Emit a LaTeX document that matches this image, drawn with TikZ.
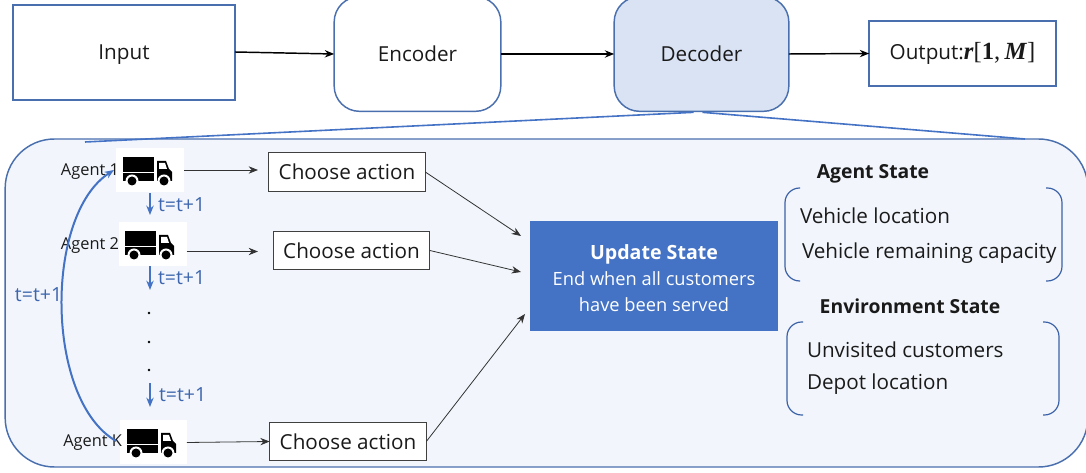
\documentclass[tikz,border=0pt]{standalone}
\usepackage{fontspec}
\setmainfont{Open Sans}
\newfontfamily\mathlike{Liberation Serif}
\usetikzlibrary{arrows.meta}
\definecolor{edgeblue}{HTML}{4A6FAE}
\definecolor{linkblue}{HTML}{4472C4}
\definecolor{panelfill}{HTML}{F2F6FC}
\definecolor{decfill}{HTML}{D9E3F3}
\definecolor{txtblue}{HTML}{3E66AE}
\definecolor{ink}{HTML}{1A1A1A}
\tikzset{
  x=0.75pt,y=-0.75pt,
  every node/.style={text=ink,inner sep=0pt,outer sep=0pt},
  main/.style={font=\fontsize{15.5pt}{18pt}\selectfont},
  sharpbox/.style={draw=edgeblue,line width=1.1pt,fill=white,main},
  roundbox/.style={draw=edgeblue,line width=1.1pt,fill=white,rounded corners=19pt,main},
  choosebox/.style={draw=black!75,line width=0.6pt,fill=white,minimum width=117.5pt,minimum height=29pt,main},
  thinarrow/.style={draw=black!80,line width=0.6pt,-{Stealth[length=7pt,width=5.5pt]}},
  bigarrow/.style={draw=black,line width=1.1pt,-{Stealth[length=7pt,width=5.5pt]}},
  bluearrow/.style={draw=linkblue,line width=1.2pt,-{Stealth[length=7pt,width=5.5pt]}},
  zoomline/.style={draw=linkblue,line width=1.2pt},
  agentlabel/.style={font=\fontsize{12.3pt}{14pt}\selectfont,anchor=east},
  steplabel/.style={font=\fontsize{14.6pt}{17pt}\selectfont,text=txtblue,anchor=west},
  bracket/.style={draw=linkblue!85!black,line width=0.9pt,rounded corners=11pt},
  truckwhite/.style={fill=white,minimum width=51pt,minimum height=33pt},
  statehead/.style={font=\fontsize{14.5pt}{17pt}\selectfont\bfseries},
  statetext/.style={main,anchor=west},
  dotnode/.style={circle,fill=black,minimum size=2pt},
}
\newcommand{\truckat}[2]{%
  \begin{scope}[shift={(#1,#2)}]
    \fill[black] (0,0) rectangle (31,15);
    \fill[black] (0,16.5) rectangle (31,24);
    \fill[black] (34,4) -- (43,4) -- (46,12) -- (49,15) -- (49,24) -- (34,24) -- cycle;
    \fill[white] (36,6) -- (42,6) -- (44,12) -- (36,12) -- cycle;
    \fill[white] (9,24) circle (6.5);
    \fill[black] (9,24) circle (4.5);
    \fill[white] (41,24) circle (6.5);
    \fill[black] (41,24) circle (4.5);
  \end{scope}}
\begin{document}
\begin{tikzpicture}
\useasboundingbox (0,0) rectangle (1086,473);
\clip (0,0) rectangle (1086,473);
% panel
\node[draw=edgeblue,line width=1.1pt,fill=panelfill,rounded corners=37pt,minimum width=812pt,minimum height=246pt] (panel) at (546.5,303) {};
% top row
\node[sharpbox,minimum width=166.5pt,minimum height=71pt,text height=10.5pt,text depth=0pt] (input) at (124,52.5) {Input};
\node[roundbox,minimum width=125pt,minimum height=86pt] (encoder) at (417.5,54) {Encoder};
\node[roundbox,fill=decfill,minimum width=131pt,minimum height=86pt] (decoder) at (701.5,54) {Decoder};
\node[sharpbox,minimum width=140pt,minimum height=49pt] (output) at (962.5,53.5) {Output:{\mathlike\fontsize{18.5pt}{18pt}\selectfont\textbf{\textit{r}}[\textbf{1},\,\textbf{\textit{M}}]}};
\draw[bigarrow] (input.east) ++(0,-0.5) -- (encoder.west);
\draw[bigarrow] (encoder.east) -- (decoder.west);
\draw[bigarrow] (decoder.east) -- (output.west);
% zoom lines
\coordinate (zl) at (85,142);
\coordinate (zr) at (1025,139);
\draw[zoomline] (decoder.south) ++(-8,1) -- (zl);
\draw[zoomline] (decoder.south) ++(1,1) -- (zr);
% trucks
\node[truckwhite] (t1) at (150,170) {};
\node[truckwhite] (t2) at (152.5,244.5) {};
\node[truckwhite,minimum width=50pt] (tk) at (153.5,442.5) {};
\truckat{123}{157}
\truckat{125}{231}
\truckat{127}{429}
\node[agentlabel] (a1) at (119,172) {Agent 1};
\node[agentlabel] (a2) at (119,246) {Agent 2};
\node[agentlabel] (ak) at (122,443) {Agent K};
% choose boxes
\node[choosebox] (c1) at (347,172) {Choose action};
\node[choosebox] (c2) at (351.5,250.5) {Choose action};
\node[choosebox] (ck) at (348,441.5) {Choose action};
\coordinate (f1) at (258,170);
\coordinate (f2) at (258,251.5);
\draw[thinarrow] (t1.east) -- (f1);
\draw[thinarrow] (t2.east) ++(0,7) -- (f2);
\draw[thinarrow] (tk.east) -- (ck.west);
% update
\node[fill=linkblue,minimum width=186pt,minimum height=82.5pt] (update) at (654,276) {};
\node[align=center,text=white,font=\fontsize{13.7pt}{19.5pt}\selectfont] (updatetext) at (654,278) {{\fontsize{14.7pt}{19.5pt}\selectfont\bfseries Update State}\\End when all customers\\have been served};
\coordinate (u1) at (521,236);
\coordinate (u2) at (521,272);
\coordinate (u3) at (525,314);
\draw[thinarrow] (c1.east) -- (u1);
\draw[thinarrow] (c2.east) -- (u2);
\draw[thinarrow] (ck.east) -- (u3);
% blue steps
\coordinate (d1) at (150,215);
\coordinate (d2) at (150,290);
\coordinate (d3a) at (150,383);
\coordinate (d3) at (150,407);
\draw[bluearrow] (t1.south) ++(0,1) -- (d1);
\draw[bluearrow] (t2.south) ++(-2.5,0) -- (d2);
\draw[bluearrow] (d3a) -- (d3);
\node[steplabel] (s1) at (158,205) {t=t+1};
\node[steplabel] (s2) at (158,278) {t=t+1};
\node[steplabel] (s3) at (159,395) {t=t+1};
\node[steplabel] (s4) at (15,295) {t=t+1};
\node[dotnode] (p1) at (149,313) {};
\node[dotnode] (p2) at (149,342) {};
\node[dotnode] (p3) at (149,370) {};
% loop
\coordinate (lk) at (116,441);
\coordinate (l1) at (114,170);
\draw[bluearrow,line width=1.5pt] (lk) .. controls (45,400) and (44,215) .. (l1);
% states
\node[statehead] (h1) at (873,174) {Agent State};
\node[statetext] (v1) at (800,216) {Vehicle location};
\node[statetext] (v2) at (802,253) {Vehicle remaining capacity};
\node[statehead] (h2) at (910,306) {Environment State};
\node[statetext] (e1) at (807,350) {Unvisited customers};
\node[statetext] (e2) at (807,384) {Depot location};
\draw[bracket] (800,188) -- (785,188) -- (785,281) -- (800,281);
\draw[bracket] (1046,188) -- (1062,188) -- (1062,281) -- (1046,281);
\draw[bracket] (803,322) -- (787,322) -- (787,415) -- (803,415);
\draw[bracket] (1043,322) -- (1059,322) -- (1059,415) -- (1043,415);
\end{tikzpicture}
\end{document}
